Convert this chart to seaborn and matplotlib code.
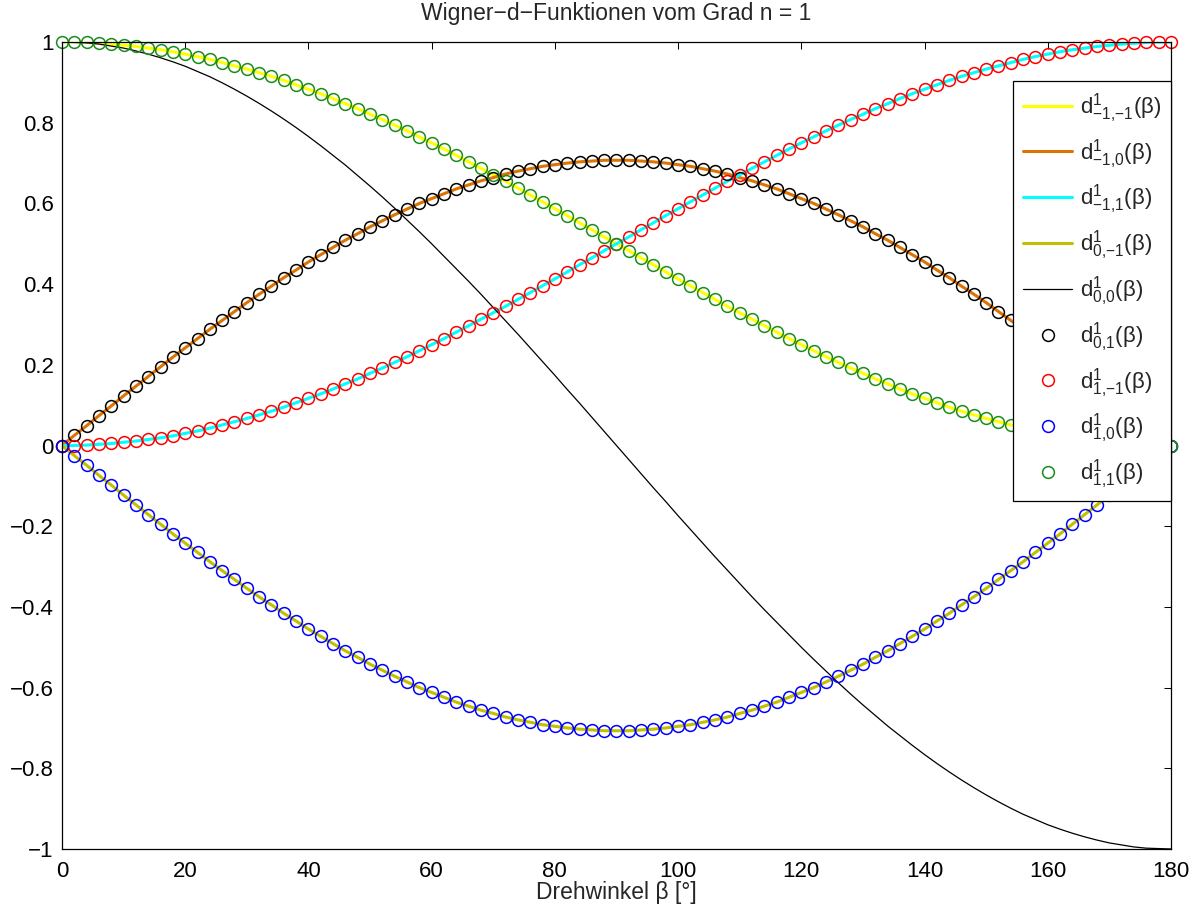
import matplotlib
matplotlib.use("Agg")
import matplotlib.pyplot as plt
import seaborn as sns

# Drehwinkel in Grad (Stuetzstellen alle 2 Grad)
beta = list(range(0, 181, 2))

# d^1_{-1,-1} = d^1_{1,1}
d_mm = [1.000, 1.000, 0.999, 0.997, 0.995, 0.992, 0.989, 0.985, 0.981, 0.976,
        0.970, 0.964, 0.957, 0.949, 0.941, 0.933, 0.924, 0.915, 0.905, 0.894,
        0.883, 0.872, 0.860, 0.847, 0.835, 0.821, 0.808, 0.794, 0.780, 0.765,
        0.750, 0.735, 0.719, 0.703, 0.687, 0.671, 0.655, 0.638, 0.621, 0.604,
        0.587, 0.570, 0.552, 0.535, 0.517, 0.500, 0.483, 0.465, 0.448, 0.430,
        0.413, 0.396, 0.379, 0.362, 0.345, 0.329, 0.313, 0.297, 0.281, 0.265,
        0.250, 0.235, 0.220, 0.206, 0.192, 0.179, 0.165, 0.153, 0.140, 0.128,
        0.117, 0.106, 0.095, 0.085, 0.076, 0.067, 0.059, 0.051, 0.043, 0.036,
        0.030, 0.024, 0.019, 0.015, 0.011, 0.008, 0.005, 0.003, 0.001, 0.000,
        0.000]

# d^1_{-1,1} = d^1_{1,-1}
d_mp = [0.000, 0.000, 0.001, 0.003, 0.005, 0.008, 0.011, 0.015, 0.019, 0.024,
        0.030, 0.036, 0.043, 0.051, 0.059, 0.067, 0.076, 0.085, 0.095, 0.106,
        0.117, 0.128, 0.140, 0.153, 0.165, 0.179, 0.192, 0.206, 0.220, 0.235,
        0.250, 0.265, 0.281, 0.297, 0.313, 0.329, 0.345, 0.362, 0.379, 0.396,
        0.413, 0.430, 0.448, 0.465, 0.483, 0.500, 0.517, 0.535, 0.552, 0.570,
        0.587, 0.604, 0.621, 0.638, 0.655, 0.671, 0.687, 0.703, 0.719, 0.735,
        0.750, 0.765, 0.780, 0.794, 0.808, 0.821, 0.835, 0.847, 0.860, 0.872,
        0.883, 0.894, 0.905, 0.915, 0.924, 0.933, 0.941, 0.949, 0.957, 0.964,
        0.970, 0.976, 0.981, 0.985, 0.989, 0.992, 0.995, 0.997, 0.999, 1.000,
        1.000]

# d^1_{-1,0} = d^1_{0,1}
d_m0 = [0.000, 0.025, 0.049, 0.074, 0.098, 0.123, 0.147, 0.171, 0.195, 0.219,
        0.242, 0.265, 0.288, 0.310, 0.332, 0.354, 0.375, 0.395, 0.416, 0.435,
        0.455, 0.473, 0.491, 0.509, 0.525, 0.542, 0.557, 0.572, 0.586, 0.600,
        0.612, 0.624, 0.636, 0.646, 0.656, 0.664, 0.673, 0.680, 0.686, 0.692,
        0.696, 0.700, 0.703, 0.705, 0.707, 0.707, 0.707, 0.705, 0.703, 0.700,
        0.696, 0.692, 0.686, 0.680, 0.673, 0.664, 0.656, 0.646, 0.636, 0.624,
        0.612, 0.600, 0.586, 0.572, 0.557, 0.542, 0.525, 0.509, 0.491, 0.473,
        0.455, 0.435, 0.416, 0.395, 0.375, 0.354, 0.332, 0.310, 0.288, 0.265,
        0.242, 0.219, 0.195, 0.171, 0.147, 0.123, 0.098, 0.074, 0.049, 0.025,
        0.000]

# d^1_{0,-1} = d^1_{1,0}
d_0m = [0.000, -0.025, -0.049, -0.074, -0.098, -0.123, -0.147, -0.171, -0.195, -0.219,
        -0.242, -0.265, -0.288, -0.310, -0.332, -0.354, -0.375, -0.395, -0.416, -0.435,
        -0.455, -0.473, -0.491, -0.509, -0.525, -0.542, -0.557, -0.572, -0.586, -0.600,
        -0.612, -0.624, -0.636, -0.646, -0.656, -0.664, -0.673, -0.680, -0.686, -0.692,
        -0.696, -0.700, -0.703, -0.705, -0.707, -0.707, -0.707, -0.705, -0.703, -0.700,
        -0.696, -0.692, -0.686, -0.680, -0.673, -0.664, -0.656, -0.646, -0.636, -0.624,
        -0.612, -0.600, -0.586, -0.572, -0.557, -0.542, -0.525, -0.509, -0.491, -0.473,
        -0.455, -0.435, -0.416, -0.395, -0.375, -0.354, -0.332, -0.310, -0.288, -0.265,
        -0.242, -0.219, -0.195, -0.171, -0.147, -0.123, -0.098, -0.074, -0.049, -0.025,
        0.000]

# d^1_{0,0}
d_00 = [1.000, 0.999, 0.998, 0.995, 0.990, 0.985, 0.978, 0.970, 0.961, 0.951,
        0.940, 0.927, 0.914, 0.899, 0.883, 0.866, 0.848, 0.829, 0.809, 0.788,
        0.766, 0.743, 0.719, 0.695, 0.669, 0.643, 0.616, 0.588, 0.559, 0.530,
        0.500, 0.469, 0.438, 0.407, 0.375, 0.342, 0.309, 0.276, 0.242, 0.208,
        0.174, 0.139, 0.105, 0.070, 0.035, 0.000, -0.035, -0.070, -0.105, -0.139,
        -0.174, -0.208, -0.242, -0.276, -0.309, -0.342, -0.375, -0.407, -0.438, -0.469,
        -0.500, -0.530, -0.559, -0.588, -0.616, -0.643, -0.669, -0.695, -0.719, -0.743,
        -0.766, -0.788, -0.809, -0.829, -0.848, -0.866, -0.883, -0.899, -0.914, -0.927,
        -0.940, -0.951, -0.961, -0.970, -0.978, -0.985, -0.990, -0.995, -0.998, -0.999,
        -1.000]

x_ticks = [0, 20, 40, 60, 80, 100, 120, 140, 160, 180]
y_ticks = [-1, -0.8, -0.6, -0.4, -0.2, 0, 0.2, 0.4, 0.6, 0.8, 1]
y_ticklabels = ["\u22121", "\u22120.8", "\u22120.6", "\u22120.4", "\u22120.2", "0",
                "0.2", "0.4", "0.6", "0.8", "1"]

line_series = [
    (d_mm, "#ffff00", 2.2, r"$\mathregular{d^1_{{-1}{,}{-1}}(β)}$"),
    (d_m0, "#dd7300", 2.2, r"$\mathregular{d^1_{{-1}{,}0}(β)}$"),
    (d_mp, "#00ffff", 2.2, r"$\mathregular{d^1_{{-1}{,}1}(β)}$"),
    (d_0m, "#c2c000", 2.2, r"$\mathregular{d^1_{0{,}{-1}}(β)}$"),
    (d_00, "#000000", 0.9, r"$\mathregular{d^1_{0{,}0}(β)}$"),
]
marker_series = [
    (d_m0, "#000000", r"$\mathregular{d^1_{0{,}1}(β)}$"),
    (d_mp, "#ff0000", r"$\mathregular{d^1_{1{,}{-1}}(β)}$"),
    (d_0m, "#0000ff", r"$\mathregular{d^1_{1{,}0}(β)}$"),
    (d_mm, "#1a8c1a", r"$\mathregular{d^1_{1{,}1}(β)}$"),
]

sns.set_theme(style="white")
plt.rcParams["font.family"] = ["Liberation Sans", "DejaVu Sans"]
plt.rcParams["mathtext.fontset"] = "custom"
plt.rcParams["mathtext.rm"] = "Liberation Sans"
plt.rcParams["axes.unicode_minus"] = True

fig = plt.figure(figsize=(11.96, 9.08), dpi=100)
ax = fig.add_axes([0.0518, 0.065, 0.9273, 0.8887])

for ys, col, lw, lab in line_series:
    sns.lineplot(x=beta, y=ys, color=col, lw=lw, label=lab, errorbar=None, ax=ax)

for ys, col, lab in marker_series:
    sns.lineplot(x=beta, y=ys, color=col, ls="none", marker="o", markersize=8.5,
                 markerfacecolor="none", markeredgecolor=col, markeredgewidth=1.1,
                 label=lab, errorbar=None, clip_on=False, ax=ax)

ax.set_xlim(0, 180)
ax.set_ylim(-1, 1)
ax.set_xticks(x_ticks)
ax.set_yticks(y_ticks)
ax.set_yticklabels(y_ticklabels)
ax.tick_params(direction="in", top=True, right=True, length=5, width=0.75,
               labelsize=16, colors="black")
ax.tick_params(axis="x", pad=9)
ax.tick_params(axis="y", pad=6)
for sp in ax.spines.values():
    sp.set_color("black")
    sp.set_linewidth(0.9)

ax.set_title("Wigner\u2212d\u2212Funktionen vom Grad n = 1", fontsize=16.5, pad=16)
ax.set_xlabel("Drehwinkel β [°]", fontsize=16.5, labelpad=-1)
ax.set_ylabel("")

leg = ax.legend(loc="upper right", bbox_to_anchor=(1.0, 0.9517), borderaxespad=0,
                fontsize=16, fancybox=False, framealpha=1, edgecolor="black",
                handlelength=2.2, handletextpad=0.35, labelspacing=0.54,
                borderpad=0.45)
leg.get_frame().set_linewidth(0.9)

fig.savefig("out.png", dpi=100)
